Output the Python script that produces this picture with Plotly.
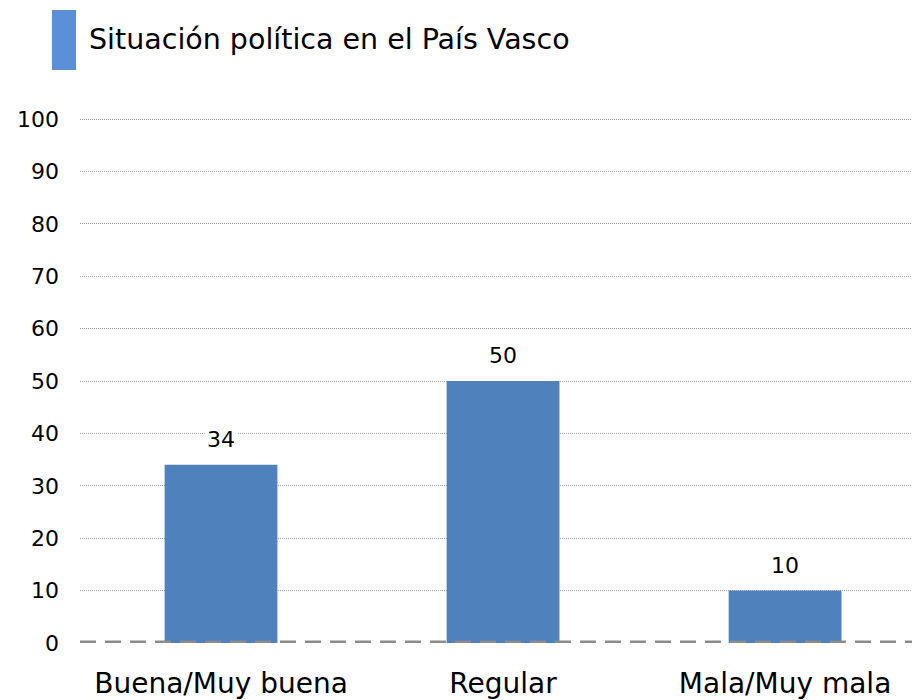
import plotly.graph_objects as go

# datos
categorias = ["Buena/Muy buena", "Regular", "Mala/Muy mala"]
valores = [34, 50, 10]
titulo = "Situación política en el País Vasco"
y_ticks = [0, 10, 20, 30, 40, 50, 60, 70, 80, 90, 100]

FONT = "DejaVu Sans"
BAR_COLOR = "#4F81BD"

fig = go.Figure(go.Bar(
    x=categorias, y=valores,
    marker=dict(color=BAR_COLOR, line=dict(width=0)),
    width=0.4, hoverinfo="x+y",
))

# etiquetas de valor con fondo blanco (cortan la rejilla)
for c, v in zip(categorias, valores):
    fig.add_annotation(x=c, y=v, text=str(v), showarrow=False,
                       yanchor="bottom", yshift=10, bgcolor="white",
                       borderpad=2, font=dict(family=FONT, size=22, color="black"))

# linea del cero discontinua
fig.add_shape(type="line", xref="paper", yref="y", x0=0, x1=1, y0=0, y1=0,
              line=dict(color="#8C8C8C", width=5, dash="16px,9px"), layer="above")

# marcador azul del titulo
fig.add_shape(type="rect", xref="paper", yref="paper",
              x0=-0.0337, x1=-0.0048, y0=1.0914, y1=1.2057,
              fillcolor="#5B8FD8", line=dict(width=0))
fig.add_annotation(xref="paper", yref="paper", x=0.0084, y=1.1486,
                   xanchor="left", yanchor="middle", showarrow=False,
                   text=titulo, font=dict(family=FONT, size=28.5, color="black"))

fig.update_layout(
    width=914, height=700,
    margin=dict(l=80, r=2, t=118, b=57),
    plot_bgcolor="white", paper_bgcolor="white",
    showlegend=False, bargap=0.6,
    font=dict(family=FONT, size=22, color="black"),
)
fig.update_xaxes(range=[-0.5, 2.45], showgrid=False, showline=False,
                 ticks="", tickfont=dict(size=28), ticklabelstandoff=21,
                 automargin=False)
fig.update_yaxes(range=[0, 100.2], tickvals=y_ticks, showgrid=True,
                 gridcolor="#A6A6A6", griddash="1px,1px", gridwidth=1,
                 zeroline=False, showline=False, ticks="",
                 tickfont=dict(size=22), ticklabelstandoff=20,
                 automargin=False)

fig.write_html("out.html", config={"displayModeBar": False},
               post_script="document.body.style.margin='0';")
